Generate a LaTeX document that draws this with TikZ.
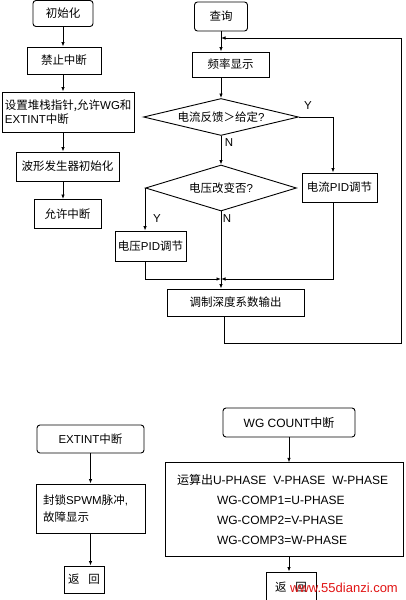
\documentclass[tikz,border=0pt]{standalone}
\usepackage{fontspec}
\setmainfont{Liberation Sans}
\newfontfamily\cjk{Noto Sans CJK SC}
\usetikzlibrary{arrows.meta,positioning,shapes.geometric}
\definecolor{wmred}{RGB}{225,20,20}
\newcommand{\zh}[1]{{\cjk #1}}

\begin{document}
\begin{tikzpicture}[x=1pt,y=-1pt,
  box/.style={draw, line width=0.9pt, inner sep=2pt, font=\fontsize{11.5}{14}\selectfont},
  rbox/.style={box, rounded corners=3pt},
  dec/.style={draw, diamond, line width=0.9pt, inner sep=0pt, font=\fontsize{11.5}{14}\selectfont},
  arr/.style={line width=0.8pt, -{Latex[length=4.5pt,width=3.5pt]}},
  lab/.style={font=\fontsize{11.5}{14}\selectfont}]
  \useasboundingbox (0,0) rectangle (405,600);

  % Init branch
  \node[rbox, minimum width=60pt, minimum height=26pt] (init) at (63,13.5) {\zh{初始化}};
  \node[box, minimum width=74pt, minimum height=27pt] (noint) at (64,60.5) {\zh{禁止中断}};
  \node[box, minimum width=132pt, minimum height=40pt, text width=126pt, align=left, inner sep=3pt,
        font=\fontsize{11.5}{13.5}\selectfont] (setsp) at (68,112)
        {\zh{设置堆栈指针,允许}WG\zh{和}\\EXTINT\zh{中断}};
  \node[box, minimum width=103pt, minimum height=29pt] (wave) at (67.5,166.5) {\zh{波形发生器初始化}};
  \node[box, minimum width=67pt, minimum height=29pt] (enint) at (67.5,214) {\zh{允许中断}};
  \foreach \a/\b in {init/noint,noint/setsp,setsp/wave,wave/enint}
    \draw[arr] (\a.south -| init.south) -- (\b.north -| init.south);

  % Query loop
  \node[rbox, minimum width=53pt, minimum height=29pt] (query) at (221,16.5) {\zh{查询}};
  \node[box, minimum width=77pt, minimum height=25pt] (freq) at (230.5,64.5) {\zh{频率显示}};
  \node[dec, minimum width=155pt, minimum height=37pt, aspect=4.2] (cmp1) at (221,117)
        {\zh{电流反馈＞给定}?};
  \node[dec, minimum width=151pt, minimum height=46pt, aspect=3.3] (cmp2) at (221,188)
        {\zh{电压改变否}?};
  \node[box, minimum width=75pt, minimum height=29pt] (ipid) at (339.5,187.5) {\zh{电流}PID\zh{调节}};
  \node[box, minimum width=71pt, minimum height=30pt] (vpid) at (150.5,246) {\zh{电压}PID\zh{调节}};
  \node[box, minimum width=137pt, minimum height=27pt] (modout) at (235.5,302.5) {\zh{调制深度系数输出}};
  \coordinate (ybr) at (333,117);
  \coordinate (mrg) at (221,279);
  \coordinate (lpa) at (224,343);
  \coordinate (lpb) at (401,343);
  \coordinate (lpc) at (401,38);

  \draw[arr] (query.south) -- (query.south |- freq.north);
  \draw[arr] (query.south |- freq.south) -- (cmp1.north);
  \draw[arr] (cmp1.south) -- (cmp2.north);
  \draw[arr] (cmp1.east) -- (ybr) -- (ybr |- ipid.north);
  \draw[arr] (cmp2.west) -- (cmp2.west |- vpid.north);
  \draw[arr] (cmp2.south) -- (modout.north -| cmp2.south);
  \draw[arr] (cmp2.west |- vpid.south) |- (mrg);
  \draw[arr] (ybr |- ipid.south) |- (mrg);
  \draw[arr] (modout.south -| lpa) -- (lpa) -- (lpb) -- (lpc) -- (lpc -| query.south);

  \node[lab] (y1) at (308,106) {Y};
  \node[lab] (n1) at (229,143) {N};
  \node[lab] (y2) at (157,219) {Y};
  \node[lab] (n2) at (227,219) {N};

  % EXTINT interrupt
  \node[rbox, minimum width=107pt, minimum height=28pt] (extint) at (90.5,439) {EXTINT\zh{中断}};
  \node[box, minimum width=109pt, minimum height=49pt, text width=95pt, align=left, inner sep=7pt,
        font=\fontsize{11.5}{17}\selectfont] (lock) at (90.5,508.5)
        {\zh{封锁}SPWM\zh{脉冲},\\\zh{故障显示}};
  \node[box, minimum width=40pt, minimum height=27pt] (ret1) at (84,579.5) {\zh{返}\hspace{9pt}\zh{回}};
  \draw[arr] (extint.south) -- (lock.north);
  \draw[arr] (lock.south) -- (lock.south |- ret1.north);

  % WG COUNT interrupt
  \node[rbox, minimum width=132pt, minimum height=29pt, font=\fontsize{12}{14}\selectfont] (wgcnt) at (289,422.5)
        {WG COUNT\zh{中断}};
  \node[box, minimum width=238pt, minimum height=91pt, text width=214pt, align=left, inner sep=12pt,
        font=\fontsize{12}{19.7}\selectfont] (calc) at (284,509.5)
        {\zh{运算出}U-PHASE\hspace{7pt}V-PHASE\hspace{7pt}W-PHASE\\
        \hspace*{40pt}WG-COMP1=U-PHASE\\
        \hspace*{40pt}WG-COMP2=V-PHASE\\
        \hspace*{40pt}WG-COMP3=W-PHASE};
  \node[box, minimum width=50pt, minimum height=30pt] (ret2) at (291,587) {\zh{返}\hspace{9pt}\zh{回}};
  \draw[arr] (wgcnt.south) -- (wgcnt.south |- calc.north);
  \draw[arr] (wgcnt.south |- calc.south) -- (wgcnt.south |- ret2.north);

  \node[text=wmred, font=\fontsize{13}{15}\selectfont] (wmark) at (344,588) {www.55dianzi.com};
\end{tikzpicture}
\end{document}
